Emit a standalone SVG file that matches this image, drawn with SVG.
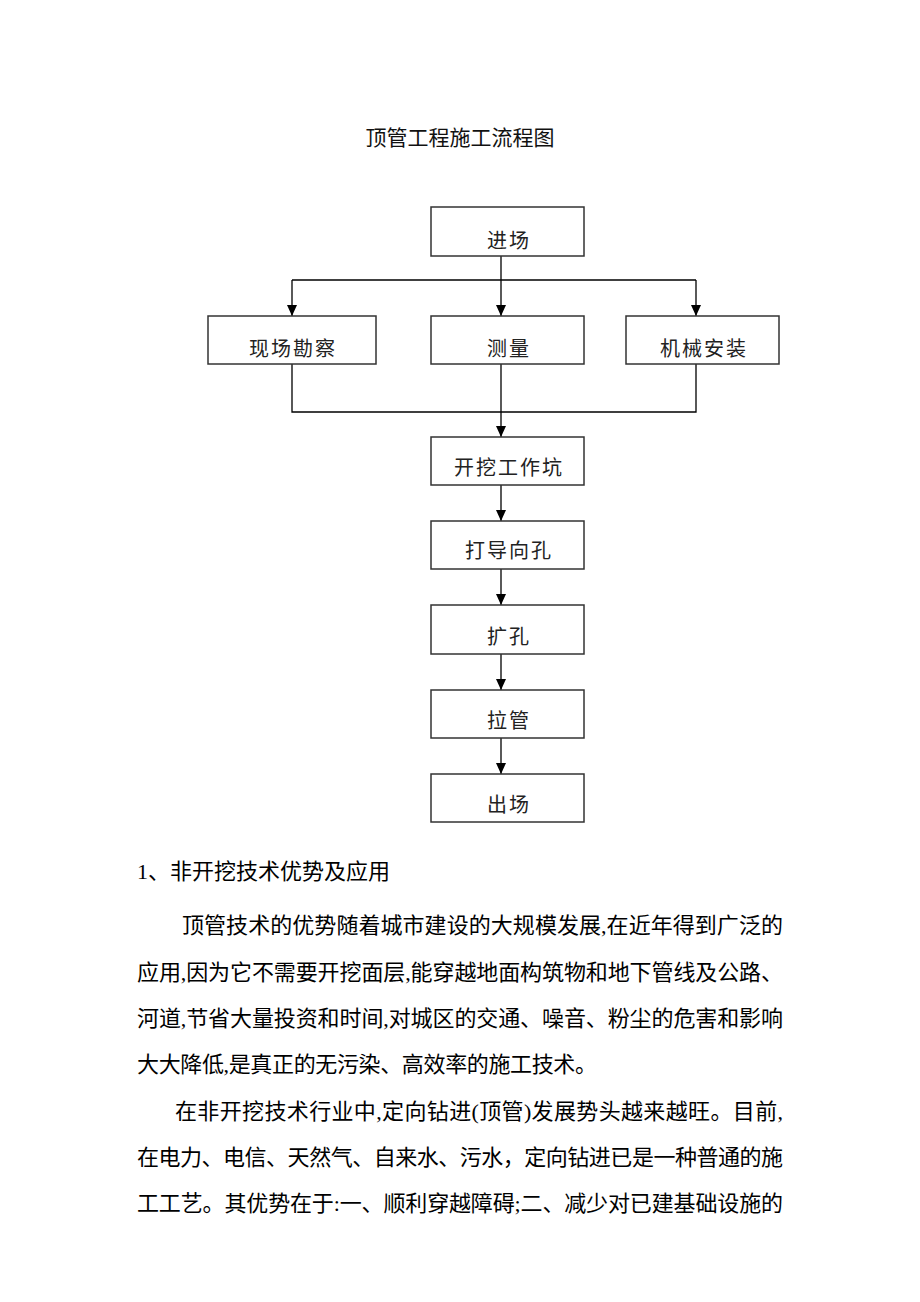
<svg xmlns="http://www.w3.org/2000/svg" width="920" height="1302" viewBox="0 0 920 1302">
<style>
.box{fill:#fff;stroke:#333;stroke-width:1.5}
.lbl{font-family:"Liberation Sans","Noto Sans CJK SC",sans-serif;font-size:20px;fill:#222;text-anchor:middle;letter-spacing:2px}
.ln{fill:none;stroke:#000;stroke-width:1.3}
.txt{font-family:"Liberation Serif","Noto Sans CJK SC",serif;font-size:22px;fill:#000}
.ttl{font-family:"Liberation Serif","Noto Sans CJK SC",serif;font-size:21px;fill:#111;text-anchor:middle}
</style>
<defs>
<marker id="arr" markerUnits="userSpaceOnUse" markerWidth="10" markerHeight="11" refX="5" refY="11" orient="0" viewBox="0 0 10 11">
<path d="M0,0 L10,0 L5,11 z" fill="#000"/>
</marker>
</defs>
<rect width="920" height="1302" fill="#fff"/>
<text class="ttl" x="460" y="145">顶管工程施工流程图</text>
<g id="connectors">
<path class="ln" d="M501,256 V280"/>
<path class="ln" d="M292,280 H696"/>
<path class="ln" d="M292,280 V316" marker-end="url(#arr)"/>
<path class="ln" d="M501,280 V316" marker-end="url(#arr)"/>
<path class="ln" d="M696,280 V316" marker-end="url(#arr)"/>
<path class="ln" d="M292,364 V412 H696 V364"/>
<path class="ln" d="M501,364 V412"/>
<path class="ln" d="M501,412 V437" marker-end="url(#arr)"/>
<path class="ln" d="M501,485 V521" marker-end="url(#arr)"/>
<path class="ln" d="M501,569 V605" marker-end="url(#arr)"/>
<path class="ln" d="M501,654 V690" marker-end="url(#arr)"/>
<path class="ln" d="M501,738 V774" marker-end="url(#arr)"/>
</g>
<g id="n_jinchang"><rect class="box" x="431" y="207" width="153" height="49"/><text class="lbl" x="509" y="248">进场</text></g>
<g id="n_kancha"><rect class="box" x="208" y="316" width="168" height="48"/><text class="lbl" x="293" y="356">现场勘察</text></g>
<g id="n_celiang"><rect class="box" x="431" y="316" width="153" height="48"/><text class="lbl" x="509" y="356">测量</text></g>
<g id="n_jixie"><rect class="box" x="626" y="316" width="153" height="48"/><text class="lbl" x="704" y="356">机械安装</text></g>
<g id="n_kaiwa"><rect class="box" x="431" y="437" width="153" height="48"/><text class="lbl" x="509" y="475">开挖工作坑</text></g>
<g id="n_daoxiang"><rect class="box" x="431" y="521" width="153" height="48"/><text class="lbl" x="509" y="558">打导向孔</text></g>
<g id="n_kuokong"><rect class="box" x="431" y="605" width="153" height="49"/><text class="lbl" x="509" y="644">扩孔</text></g>
<g id="n_laguan"><rect class="box" x="431" y="690" width="153" height="48"/><text class="lbl" x="509" y="728">拉管</text></g>
<g id="n_chuchang"><rect class="box" x="431" y="774" width="153" height="48"/><text class="lbl" x="509" y="812">出场</text></g>
<g id="body">
<text class="txt" x="137" y="879">1、非开挖技术优势及应用</text>
<text class="txt" x="182" y="933" textLength="601" lengthAdjust="spacing">顶管技术的优势随着城市建设的大规模发展,在近年得到广泛的</text>
<text class="txt" x="137" y="980" textLength="646" lengthAdjust="spacing">应用,因为它不需要开挖面层,能穿越地面构筑物和地下管线及公路、</text>
<text class="txt" x="137" y="1026" textLength="646" lengthAdjust="spacing">河道,节省大量投资和时间,对城区的交通、噪音、粉尘的危害和影响</text>
<text class="txt" x="137" y="1072" textLength="460" lengthAdjust="spacing">大大降低,是真正的无污染、高效率的施工技术。</text>
<text class="txt" x="175" y="1119" textLength="608" lengthAdjust="spacing">在非开挖技术行业中,定向钻进(顶管)发展势头越来越旺。目前,</text>
<text class="txt" x="137" y="1165" textLength="646" lengthAdjust="spacing">在电力、电信、天然气、自来水、污水，定向钻进已是一种普通的施</text>
<text class="txt" x="137" y="1211" textLength="646" lengthAdjust="spacing">工工艺。其优势在于:一、顺利穿越障碍;二、减少对已建基础设施的</text>
</g>
</svg>
